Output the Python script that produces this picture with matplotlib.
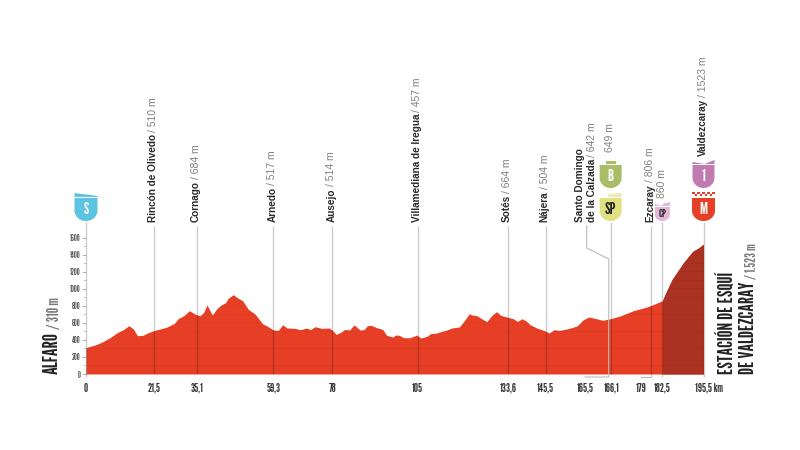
##################################################
# Stage profile, Alfaro - Valdezcaray
##################################################
#
import numpy as np
import matplotlib
matplotlib.use('Agg')
import matplotlib.pyplot as plt
from matplotlib.patches import Polygon
#
############################################
# Data
############################################
#
km = [0,2.85,4.95,7.6,9.9,11.8,13.6,15,16.3,18.1,19.2,21.5,23.9,25.7,28,29.2,31,32.7,
      34.7,36.1,37.2,38.3,40,41.5,42.8,44.2,45,46.6,47.9,49.6,51.4,53.5,55.9,57.7,59.3,
      60.9,62.3,63.6,66.2,67.8,69.9,71,72.5,74.6,77,78,79.2,80.6,82,83.4,84.9,86.8,88,
      89.1,90.3,92,93.9,95.2,97.1,98.1,99.2,100.5,102.6,104.7,106,107.9,109.1,111,112.6,
      114.2,115.8,118.2,119.7,121.4,122.1,123.7,125.3,126.9,128.5,130,131.3,133.6,135.3,
      136.6,138.1,139.5,140.6,142.7,145.5,146.6,148.2,149.9,152.7,155.4,157.5,159.2,
      161.2,163.6,166.1,169.1,173.3,177.5,179,182.5,183.3,185.5,189.1,192.1,193.9,195.5]
elev = [310,340,372,426,485,520,567,528,450,454,477,510,532,552,595,650,685,743,
        700,684,720,810,692,770,810,837,888,931,896,860,759,704,590,555,517,
        512,579,540,536,520,540,520,555,536,540,514,465,489,524,516,575,516,520,
        567,571,544,524,454,434,458,454,426,426,457,422,442,473,481,500,
        516,540,552,622,708,693,685,649,614,689,732,689,664,649,
        618,649,618,579,540,504,481,520,512,532,563,638,669,
        653,630,649,681,743,786,806,860,931,1107,1303,1440,1479,1523]

place_km = [21.5,35.1,59.3,78,105,133.6,145.5]
place_name = ['Rincón de Olivedo','Cornago','Arnedo','Ausejo',
              'Villamediana de Iregua','Sotés','Nájera']
place_alt = ['510 m','684 m','517 m','514 m','457 m','664 m','504 m']

xtick_km = [0,21.5,35.1,59.3,78,105,133.6,145.5,165.5,166.1,179,182.5,195.5]
xtick_text = ['0','21,5','35,1','59,3','78','105','133,6','145,5','165,5','166,1','179','182,5','195,5 km']
xtick_shift = [0,0,0,0,0,0,0,0,-23.6,1,-10,0,5]

badge_km = [0,166.1,166.1,182.5,195.5,195.5]
badge_text = ['S','B','SP','CP','1','M']
badge_color = ['#5cc3e2','#a9bd68','#e0e282','#e2b8d8','#c27bb0','#e63f26']
#
############################################
# Figure and main axes (pixel box of the profile)
############################################
#
W,H = 800,450
X0,X1,Y0,Y1 = 86,703.5,374,237.7
COND = ['League Gothic','Oswald','Liberation Sans']
plt.rcParams['font.family'] = ['Liberation Sans','DejaVu Sans']
fig = plt.figure(figsize=(W/100,H/100),dpi=100)
ax = fig.add_axes([X0/W,1-Y0/H,(X1-X0)/W,(Y0-Y1)/H])
ax.set_xlim(0,195.5)
ax.set_ylim(0,1600)
for s in ax.spines.values():
    s.set_visible(False)
ax.patch.set_alpha(0)

# overlay in pixels for everything outside the profile
ov = fig.add_axes([0,0,1,1])
ov.set_xlim(0,W); ov.set_ylim(H,0); ov.axis('off')
ov.patch.set_alpha(0)
ax.set_zorder(1); ov.set_zorder(2)

def px(k):
    return X0+k*(X1-X0)/195.5
#
############################################
# Profile
############################################
#
km_arr,elev_arr = np.array(km),np.array(elev)
ax.fill_between(km_arr,elev_arr,color='#e63f26',lw=0,zorder=1)
last = km_arr>=182.5
ax.fill_between(km_arr[last],elev_arr[last],color='#ab3222',lw=0,zorder=2)
# faint contour bands inside the fill
for g in range(100,1600,100):
    ax.fill_between(km_arr,g-4,np.minimum(g+4,elev_arr),where=elev_arr>g+4,
                    color='#000000',alpha=0.035,lw=0,zorder=3,interpolate=True)

ax.set_yticks(range(0,1601,200))
ax.set_yticks(range(100,1600,200),minor=True)
ax.set_yticklabels([str(v) for v in range(0,1601,200)],fontsize=6,color='#555555',fontfamily=COND)
ax.tick_params(axis='y',which='major',length=3,width=0.5,color='#999999',pad=1)
ax.tick_params(axis='y',which='minor',length=2,width=0.5,color='#bbbbbb')
ax.set_xticks([])
#
############################################
# Vertical lines and place labels
############################################
#
NAME = 7.2; ALT = 7.5

def vline(x,y0,y1):
    ov.plot([x,x],[y0,y1],color='k',alpha=0.2,lw=1,solid_capstyle='butt')

def place(x,y,name,alt):
    t = ov.text(x-1,y,name,rotation=90,ha='center',va='bottom',fontsize=NAME,
                fontweight='bold',color='#2a2a2a')
    bb = t.get_window_extent(fig.canvas.get_renderer())
    ov.text(x-1,y-bb.height-2,'/ '+alt,rotation=90,ha='center',va='bottom',
            fontsize=ALT,color='#808080')

for k,n,a in zip(place_km,place_name,place_alt):
    vline(px(k),226,374)
    place(px(k),222,n,a)
vline(px(0),222,377)
vline(px(166.1),222,374)
vline(px(179),226,377)
vline(px(182.5),222,377)
vline(px(195.5),222,377)

# elbow leader for Santo Domingo, and the two shifted km labels
ov.plot([586.7,586.7,px(165.5),px(165.5),585],[226,248,259,377,377],color='#bbbbbb',lw=0.8)
ov.plot([px(179),641],[377,377],color='#bbbbbb',lw=0.8)

ov.text(580,222,'Santo Domingo',rotation=90,ha='center',va='bottom',fontsize=NAME,
        fontweight='bold',color='#2a2a2a')
t = ov.text(592,222,'de la Calzada',rotation=90,ha='center',va='bottom',fontsize=NAME,
            fontweight='bold',color='#2a2a2a')
bb = t.get_window_extent(fig.canvas.get_renderer())
ov.text(592,222-bb.height-2,'/ 642 m',rotation=90,ha='center',va='bottom',fontsize=ALT,color='#808080')
ov.text(610,152,'649 m',rotation=90,ha='center',va='bottom',fontsize=ALT,color='#808080')
place(px(179),222,'Ezcaray','806 m')
ov.text(662,198,'860 m',rotation=90,ha='center',va='bottom',fontsize=ALT,color='#808080')
place(px(195.5),156,'Valdezcaray','1523 m')

for k,s,d in zip(xtick_km,xtick_text,xtick_shift):
    ov.text(px(k)+d,388,s,ha='center',va='center',fontsize=8.5,color='#333333',fontfamily=COND)
#
############################################
# Shields
############################################
#
def shield(x,top,bottom,half,color,txt,size):
    n = np.linspace(0,np.pi,24)
    mid = top+(bottom-top)*0.55
    xs = x+half*np.cos(n)
    ys = mid+(bottom-mid)*np.sin(n)
    pts = [(x-half,top),(x+half,top)]+list(zip(xs,ys))
    ov.add_patch(Polygon(pts,closed=True,fc=color,ec='none',zorder=4))
    ov.text(x,(top+bottom)/2,txt,ha='center',va='center',
            color='white' if txt not in ('SP','CP') else '#222222',
            fontsize=size,zorder=5,fontfamily=COND)

shape = {'S':(198,221,11.5,11),'B':(165,188,11,12),'SP':(198,221,11,12),
         'CP':(207,221,7.5,8),'1':(165,188,11,12),'M':(198,221,11.5,12)}
for k,s,c in zip(badge_km,badge_text,badge_color):
    top,bottom,half,size = shape[s]
    shield(px(k),top,bottom,half,c,s,size)
    x = px(k)
    # small flag on top of each shield
    if s=='S':
        ov.add_patch(Polygon([(x-11.5,193),(x+11.5,196),(x+11.5,197),(x-11.5,197)],fc=c,ec='none'))
    elif s=='B':
        ov.add_patch(Polygon([(x-11,164),(x-5,164),(x-5,161),(x+5,161),(x+5,164),(x+11,164)],fc=c,ec='none'))
    elif s=='SP':
        ov.add_patch(Polygon([(x-11,197),(x-3,197),(x-3,194),(x+11,193),(x+11,197)],fc=c,ec='none',alpha=0.6))
    elif s=='CP':
        ov.add_patch(Polygon([(x-7.5,206),(x-7.5,204),(x,206),(x,204),(x+7.5,202),(x+7.5,206)],fc=c,ec='none'))
    elif s=='1':
        ov.add_patch(Polygon([(x-11,164),(x-11,162),(x+1,164),(x+11,160),(x+11,164)],fc=c,ec='none'))
    elif s=='M':
        for i in range(9):
            for j in range(2):
                if (i+j)%2==0:
                    ov.add_patch(Polygon([(x-11.5+i*2.55,192+j*2.2),(x-11.5+(i+1)*2.55,192+j*2.2),
                                          (x-11.5+(i+1)*2.55,194.2+j*2.2),(x-11.5+i*2.55,194.2+j*2.2)],
                                         fc=c,ec='none'))
#
############################################
# Start and finish names
############################################
#
t = ov.text(52,374,'ALFARO',rotation=90,ha='center',va='bottom',fontsize=14.5,
            color='#222222',fontfamily=COND)
bb = t.get_window_extent(fig.canvas.get_renderer())
ov.text(55,374-bb.height-3,'/ 310 m',rotation=90,ha='center',va='bottom',fontsize=11,
        color='#777777',fontfamily=COND)
ov.text(727,374,'ESTACIÓN DE ESQUÍ',rotation=90,ha='center',va='bottom',fontsize=14,
        color='#222222',fontfamily=COND)
t = ov.text(748,374,'DE VALDEZCARAY',rotation=90,ha='center',va='bottom',fontsize=14,
            color='#222222',fontfamily=COND)
bb = t.get_window_extent(fig.canvas.get_renderer())
ov.text(751,374-bb.height-3,'/ 1.523 m',rotation=90,ha='center',va='bottom',fontsize=10,
        color='#777777',fontfamily=COND)

fig.savefig('out.png',dpi=100)
